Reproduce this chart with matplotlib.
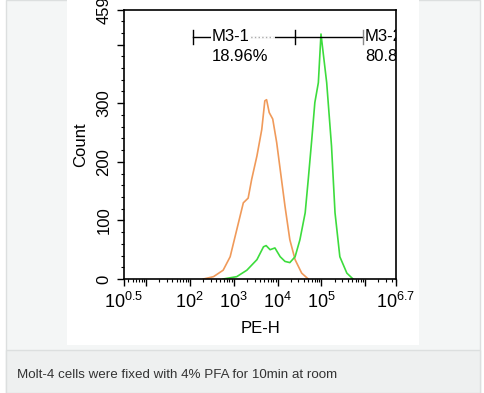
import matplotlib.pyplot as plt
import matplotlib.patches as mpatches
import matplotlib.ticker as mticker
import numpy as np

plt.rcParams['font.family'] = ['Liberation Sans', 'DejaVu Sans']
plt.rcParams['mathtext.fontset'] = 'custom'
plt.rcParams['mathtext.rm'] = 'Liberation Sans'
plt.rcParams['mathtext.it'] = 'Liberation Sans'

# PE-H channel (log10 exponent) and counts
control_exp = [2.31, 2.54, 2.76, 2.92, 3.07, 3.22, 3.33, 3.41, 3.53, 3.64, 3.71, 3.75,
               3.81, 3.89, 3.98, 4.06, 4.17, 4.28, 4.40, 4.55, 4.70]
control_count = [0, 4, 15, 38, 84, 130, 138, 170, 210, 255, 304, 306,
                 284, 273, 233, 187, 124, 67, 33, 10, 0]

stained_exp = [2.76, 3.07, 3.30, 3.53, 3.68, 3.74, 3.83, 3.94, 4.06, 4.17, 4.28, 4.40,
               4.51, 4.63, 4.70, 4.78, 4.85, 4.93, 4.99, 5.12, 5.23, 5.31, 5.42, 5.58, 5.72]
stained_count = [0, 4, 15, 33, 55, 57, 50, 53, 38, 30, 28, 38,
                 67, 113, 170, 238, 301, 335, 418, 335, 227, 113, 38, 10, 0]

# marker gates (exponents) and labels
gate1 = (2.07, 4.40)
gate1_faint = (3.30, 3.90)
gate2 = (4.40, 5.95)
gate_y = 413
gate1_label = ("M3-1", "18.96%")
gate2_label = ("M3-2", "80.89%")

caption = "Molt-4 cells were fixed with 4% PFA for 10min at room"

W, H = 485, 393
fig = plt.figure(figsize=(W / 100, H / 100), dpi=100)
fig.patch.set_facecolor('white')

# page panels (behind the axes)
fig.patches.append(mpatches.Rectangle((6 / W, 0), 474 / W, 1, transform=fig.transFigure,
                                      facecolor='#f4f6f6', edgecolor='#dcdfdf', lw=1, zorder=-10))
fig.patches.append(mpatches.Rectangle((6 / W, 0), 474 / W, 43 / H, transform=fig.transFigure,
                                      facecolor='#eef0f0', edgecolor='#dcdfdf', lw=1, zorder=-9))
fig.patches.append(mpatches.Rectangle((67 / W, 48 / H), 352 / W, 345 / H, transform=fig.transFigure,
                                      facecolor='white', edgecolor='none', zorder=-8))
fig.text(17 / W, 18 / H, caption, fontsize=9.6, color='#333333', va='center', ha='left')

ax = fig.add_axes([124 / W, 114 / H, 272 / W, 269 / H])
ax.set_facecolor('white')

ax.plot(10 ** np.array(control_exp), control_count, color='#f09a5a', lw=1.2)
ax.plot(10 ** np.array(stained_exp), stained_count, color='#3ddc3d', lw=1.2)

ax.set_xscale('log')
ax.set_xlim(10 ** 0.5, 10 ** 6.7)
ax.set_ylim(0, 459)

# gates
g1a, g1b = 10 ** gate1[0], 10 ** gate1[1]
g2a, g2b = 10 ** gate2[0], 10 ** gate2[1]
ax.plot([g1a, g1b], [gate_y, gate_y], color='black', lw=1)
ax.plot([g2a, g2b], [gate_y, gate_y], color='black', lw=1)
ax.plot([10 ** gate1_faint[0], 10 ** gate1_faint[1]], [gate_y, gate_y],
        color='white', lw=2, zorder=3)
ax.plot([10 ** gate1_faint[0], 10 ** gate1_faint[1]], [gate_y, gate_y],
        color='#aaaaaa', lw=1, ls=':', zorder=4)
ax.plot([g1a, g1a], [gate_y - 12, gate_y + 12], color='black', lw=1)
ax.plot([g1b, g1b], [gate_y - 12, gate_y + 12], color='black', lw=1)
ax.plot([g2b, g2b], [gate_y - 12, gate_y + 12], color='#888888', lw=1)
ax.text(10 ** (gate1[0] + 0.42), gate_y, gate1_label[0], fontsize=12, va='center', ha='left',
        zorder=5, bbox=dict(facecolor='white', edgecolor='none', pad=0.5))
ax.text(10 ** (gate1[0] + 0.42), gate_y - 33, gate1_label[1], fontsize=12, va='center', ha='left')
ax.text(10 ** (gate2[1] + 0.04), gate_y, gate2_label[0], fontsize=12, va='center', ha='left',
        clip_on=True)
ax.text(10 ** (gate2[1] + 0.04), gate_y - 33, gate2_label[1], fontsize=12, va='center', ha='left',
        clip_on=True)

# ticks
xt = [10 ** 0.5, 1e1, 1e2, 1e3, 1e4, 1e5, 1e6, 10 ** 6.7]
xl = ['$10^{0.5}$', '', '$10^{2}$', '$10^{3}$', '$10^{4}$', '$10^{5}$', '', '$10^{6.7}$']
ax.xaxis.set_major_locator(mticker.FixedLocator(xt))
ax.xaxis.set_major_formatter(mticker.FixedFormatter(xl))
ax.xaxis.set_minor_locator(mticker.LogLocator(base=10, subs=np.arange(2, 10), numticks=20))
ax.xaxis.set_minor_formatter(mticker.NullFormatter())

ax.set_yticks([0, 100, 200, 300, 400, 459])
ax.set_yticklabels(['0', '100', '200', '300', '', '459'], rotation=90, va='center')
ax.yaxis.set_minor_locator(mticker.MultipleLocator(20))

ax.tick_params(which='major', length=5, width=1, direction='out')
ax.tick_params(which='minor', length=2.5, width=0.8, direction='out')
ax.tick_params(axis='x', labelsize=13, pad=4)
ax.tick_params(axis='y', labelsize=12, pad=4)
for s in ax.spines.values():
    s.set_linewidth(1.2)

ax.set_xlabel('PE-H', fontsize=12, labelpad=7)
ax.set_ylabel('Count', fontsize=12, labelpad=6)

fig.savefig('out.png', dpi=100)
